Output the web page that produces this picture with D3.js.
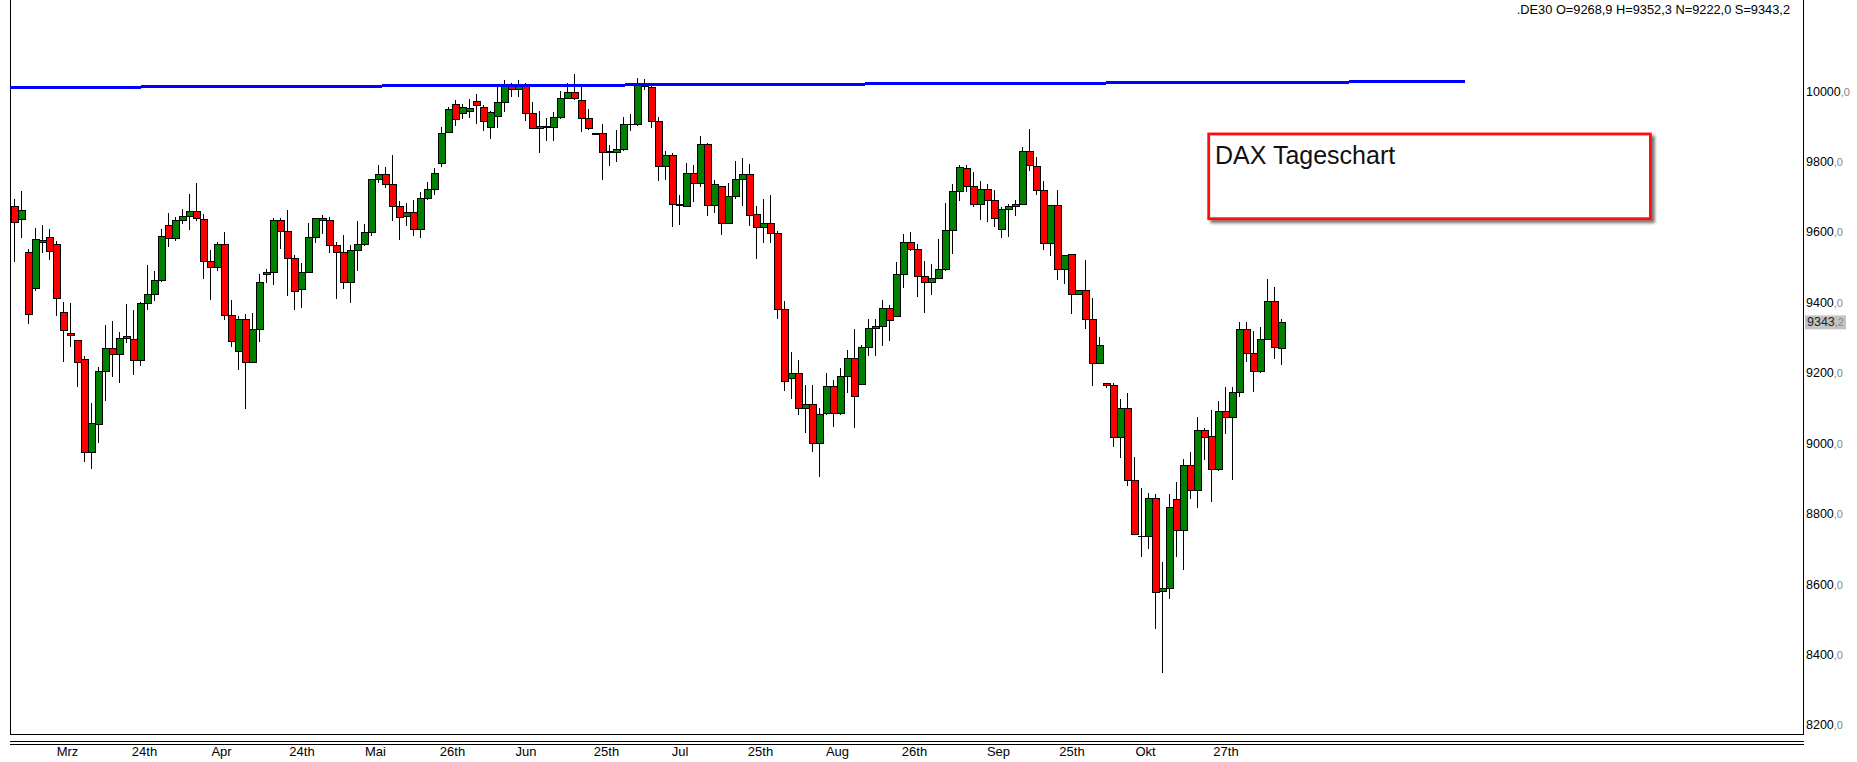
<!DOCTYPE html>
<html><head><meta charset="utf-8">
<script src="https://cdn.jsdelivr.net/npm/d3@7"></script>
<style>html,body{margin:0;padding:0;background:#fff;overflow:hidden}</style>
</head><body><svg id="c" width="1857" height="762"></svg>
<script>
// ---- data (DAX daily candles) ----
const openP = [9672,9636,9542,9440,9576,9585,9565,9372,9312,9292,9238,8974,9054,9204,9269,9252,9298,9295,9235,9397,
9423,9463,9619,9582,9633,9645,9659,9636,9517,9500,9565,9363,9261,9352,9230,9323,9480,9485,9633,9602,
9525,9437,9485,9585,9638,9633,9562,9542,9457,9548,9565,9599,9750,9764,9735,9673,9645,9656,9608,9696,
9721,9795,9883,9963,9937,9943,9971,9954,9897,9929,9968,10015,10006,10013,9937,9895,9897,9897,9926,9980,
9997,9974,9923,9880,9880,9826,9826,9835,9905,9906,10018,10011,9914,9787,9817,9679,9671,9766,9738,9849,
9676,9730,9625,9701,9750,9764,9650,9613,9625,9596,9380,9184,9198,9099,9110,9000,9085,9162,9085,9190,
9241,9167,9272,9326,9332,9383,9360,9480,9571,9551,9474,9457,9468,9494,9605,9716,9781,9730,9679,9721,
9690,9608,9664,9672,9678,9829,9787,9718,9568,9676,9494,9537,9423,9434,9352,9227,9170,9164,9017,9099,
8895,8736,8735,8843,8579,8588,8841,8752,8937,8866,9037,9020,8926,9091,9074,9145,9324,9255,9205,9295,
9403,9268.9];
const highP = [9693,9716,9552,9610,9620,9609,9574,9401,9398,9292,9248,9114,9216,9337,9347,9317,9395,9378,9402,9506,
9489,9609,9654,9642,9665,9708,9739,9651,9548,9571,9599,9407,9361,9368,9370,9481,9496,9639,9641,9663,
9534,9513,9626,9639,9648,9642,9572,9591,9562,9631,9623,9750,9789,9785,9818,9687,9681,9690,9713,9741,
9781,9897,9954,9974,9964,9977,9991,9960,9944,10014,10032,10022,10032,10022,9969,9944,9923,9940,10000,10022,
10049,10014,9949,9881,9907,9846,9890,9926,9935,10038,10035,10018,9926,9830,9823,9705,9795,9790,9873,9853,
9748,9730,9738,9802,9810,9792,9675,9694,9705,9603,9404,9258,9235,9165,9165,9099,9198,9180,9213,9264,
9323,9278,9352,9352,9407,9392,9514,9594,9600,9565,9517,9508,9579,9681,9735,9789,9789,9769,9745,9736,
9718,9672,9679,9690,9841,9892,9812,9744,9676,9718,9534,9537,9434,9520,9412,9301,9170,9170,9125,9142,
8961,8873,8859,8856,8663,8856,8890,8955,8975,9074,9042,9093,9120,9161,9159,9344,9344,9318,9329,9466,
9444,9352.3];
const lowP = [9516,9584,9340,9433,9541,9520,9362,9232,9274,9161,8948,8928,9001,9121,9189,9172,9286,9195,9220,9377,
9405,9459,9558,9573,9622,9607,9630,9467,9408,9490,9349,9272,9209,9098,9230,9288,9456,9450,9553,9419,
9379,9385,9483,9570,9595,9539,9411,9439,9399,9490,9559,9590,9738,9726,9632,9578,9618,9590,9584,9690,
9704,9784,9880,9900,9920,9923,9906,9886,9865,9895,9940,9983,9983,9916,9892,9825,9858,9858,9920,9977,
9974,9883,9889,9875,9749,9788,9798,9829,9888,9902,10004,9895,9746,9748,9615,9621,9671,9685,9729,9644,
9655,9592,9625,9693,9675,9618,9524,9570,9570,9354,9149,9126,9079,9028,8974,8903,9079,9047,9079,9142,
9042,9164,9247,9247,9275,9289,9360,9442,9545,9414,9369,9422,9466,9488,9537,9687,9713,9672,9635,9628,
9615,9582,9587,9646,9678,9774,9704,9548,9533,9465,9453,9366,9420,9325,9162,9224,9156,8990,8959,8879,
8741,8678,8700,8473,8348,8558,8678,8641,8841,8817,8952,8834,8920,9027,8896,9132,9232,9146,9200,9295,
9238,9222.0];
const closeP = [9628,9662,9366,9579,9569,9545,9412,9321,9306,9230,8974,9056,9204,9269,9252,9298,9304,9235,9397,9423,
9463,9588,9582,9633,9645,9659,9639,9517,9500,9565,9363,9289,9352,9230,9323,9457,9485,9633,9602,9525,
9431,9485,9585,9639,9633,9562,9542,9457,9548,9565,9599,9750,9764,9735,9673,9642,9656,9608,9696,9721,
9767,9880,9948,9920,9954,9951,9960,9914,9940,9968,10013,10006,10014,9937,9895,9899,9899,9926,9980,9997,
9980,9923,9895,9879,9826,9829,9835,9906,9906,10018,10012,9914,9787,9817,9679,9674,9766,9738,9849,9676,
9735,9625,9701,9750,9764,9647,9613,9625,9596,9380,9176,9198,9099,9110,9000,9082,9162,9085,9190,9241,
9133,9272,9326,9332,9383,9349,9480,9571,9551,9474,9457,9468,9494,9605,9716,9784,9730,9679,9721,9690,
9639,9664,9672,9678,9829,9789,9718,9568,9676,9494,9534,9423,9434,9352,9227,9278,9164,9017,9099,8895,
8741,8735,8843,8576,8588,8818,8752,8937,8866,9037,9017,8926,9091,9074,9145,9324,9255,9205,9295,9403,
9272,9343.2];

const yTickValues = [8200,8400,8600,8800,9000,9200,9400,9600,9800,10000];
const xTickLabels = ["Mrz","24th","Apr","24th","Mai","26th","Jun","25th","Jul","25th","Aug","26th","Sep","25th","Okt","27th"];
const xTickIndex  = [7.5,18.5,29.5,41,51.5,62.5,73,84.5,95,106.5,117.5,128.5,140.5,151,161.5,173];
const trendIndex = [-0.6, 207.2];
const trendValue = [10010.3, 10027.4];
const symbolName = ".DE30";
const lastLabels = ["O","H","N","S"];
const lastValues = ["9268,9","9352,3","9222,0","9343,2"];
const noteText = "DAX Tageschart";

// ---- drawing ----
const svg = d3.select("#c");
const N = closeP.length;
const x = d3.scaleLinear().domain([0, N - 1]).range([14.5, 14.5 + 7 * (N - 1)]);
const y = d3.scaleLinear().domain([8173.9, 10259]).range([734, 0]);

svg.append("rect").attr("width",1857).attr("height",762).attr("fill","#fff");

const defs = svg.append("defs");
const f = defs.append("filter").attr("id","sh").attr("x","-10%").attr("y","-20%").attr("width","130%").attr("height","160%");
f.append("feDropShadow").attr("dx",3).attr("dy",3).attr("stdDeviation",1.6).attr("flood-color","#000").attr("flood-opacity",0.55);

// frame
const frame = svg.append("g").attr("stroke","#000").attr("stroke-width",1).attr("shape-rendering","crispEdges");
frame.append("line").attr("x1",10.5).attr("x2",10.5).attr("y1",0).attr("y2",734.5);
frame.append("line").attr("x1",1803.5).attr("x2",1803.5).attr("y1",0).attr("y2",734.5);
frame.append("line").attr("x1",10).attr("x2",1804).attr("y1",734.5).attr("y2",734.5);
frame.append("line").attr("x1",10).attr("x2",1804).attr("y1",741.5).attr("y2",741.5);
frame.append("line").attr("x1",10).attr("x2",1804).attr("y1",744.5).attr("y2",744.5);

// candles
const idx = d3.range(N);
const cg = svg.append("g").attr("shape-rendering","crispEdges");
cg.selectAll("line.w").data(idx).join("line").attr("class","w")
  .attr("x1", i => x(i)).attr("x2", i => x(i))
  .attr("y1", i => y(highP[i])).attr("y2", i => y(lowP[i]))
  .attr("stroke","#000").attr("stroke-width",1);
cg.selectAll("rect.b").data(idx).join("rect").attr("class","b")
  .attr("x", i => x(i) - 3)
  .attr("width", 7)
  .attr("y", i => y(Math.max(openP[i], closeP[i])))
  .attr("height", i => Math.max(0.6, Math.abs(y(openP[i]) - y(closeP[i]))))
  .attr("fill", i => closeP[i] > openP[i] ? "#008000" : (closeP[i] < openP[i] ? "#ff0000" : "#000"))
  .attr("stroke","#000").attr("stroke-width",1);

// trend line
svg.append("path")
  .datum(d3.zip(trendIndex, trendValue))
  .attr("d", d3.line().x(d => x(d[0])).y(d => y(d[1])))
  .attr("stroke","#0000ff").attr("stroke-width",3).attr("fill","none")
  .attr("shape-rendering","crispEdges");

// y axis
const ya = svg.append("g").attr("transform","translate(1803,0)")
  .call(d3.axisRight(y).tickValues(yTickValues).tickSize(0).tickPadding(3));
ya.select(".domain").remove();
ya.selectAll("text").attr("font-family","'Liberation Sans', Arial, sans-serif").attr("font-size",12.5).attr("fill","#000")
  .each(function(d){
    const t = d3.select(this); t.text(null);
    t.append("tspan").text(d);
    t.append("tspan").text(",0").attr("fill","#7d8794").attr("font-size",11);
  });

// last price label
const lastClose = closeP[N-1];
const lg = svg.append("g").attr("transform",`translate(1804,${y(lastClose)})`);
lg.append("rect").attr("x",1).attr("y",-7).attr("width",41).attr("height",14).attr("fill","#c3c3c3");
const lt = lg.append("text").attr("x",3).attr("dy","0.32em").attr("font-family","'Liberation Sans', Arial, sans-serif").attr("font-size",12.5);
const lcs = String(lastClose.toFixed(1)).split(".");
lt.append("tspan").text(lcs[0]).attr("fill","#222");
lt.append("tspan").text("," + lcs[1]).attr("fill","#8a8a8a").attr("font-size",11);

// x axis
const xa = svg.append("g").attr("transform","translate(0,745)")
  .call(d3.axisBottom(x).tickValues(xTickIndex).tickFormat((d,i) => xTickLabels[i]).tickSize(0).tickPadding(2));
xa.select(".domain").remove();
xa.selectAll("text").attr("font-family","'Liberation Sans Narrow','Liberation Sans', Arial, sans-serif").attr("font-size",13).attr("fill","#000");

// header
svg.append("text").attr("x",1790).attr("y",14).attr("text-anchor","end")
  .attr("font-family","'Liberation Sans', Arial, sans-serif").attr("font-size",12.8).attr("fill","#000")
  .text(symbolName + " " + lastLabels.map((l,i) => l + "=" + lastValues[i]).join(" "));

// note box
const nb = svg.append("g");
nb.append("rect").attr("x",1208.7).attr("y",134).attr("width",441.7).attr("height",84.7)
  .attr("fill","#fff").attr("stroke","#ff0d0d").attr("stroke-width",2.8).attr("filter","url(#sh)");
nb.append("text").attr("x",1215).attr("y",163.5).attr("font-family","'Liberation Sans', Arial, sans-serif")
  .attr("font-size",25).attr("fill","#111").text(noteText);
</script></body></html>
